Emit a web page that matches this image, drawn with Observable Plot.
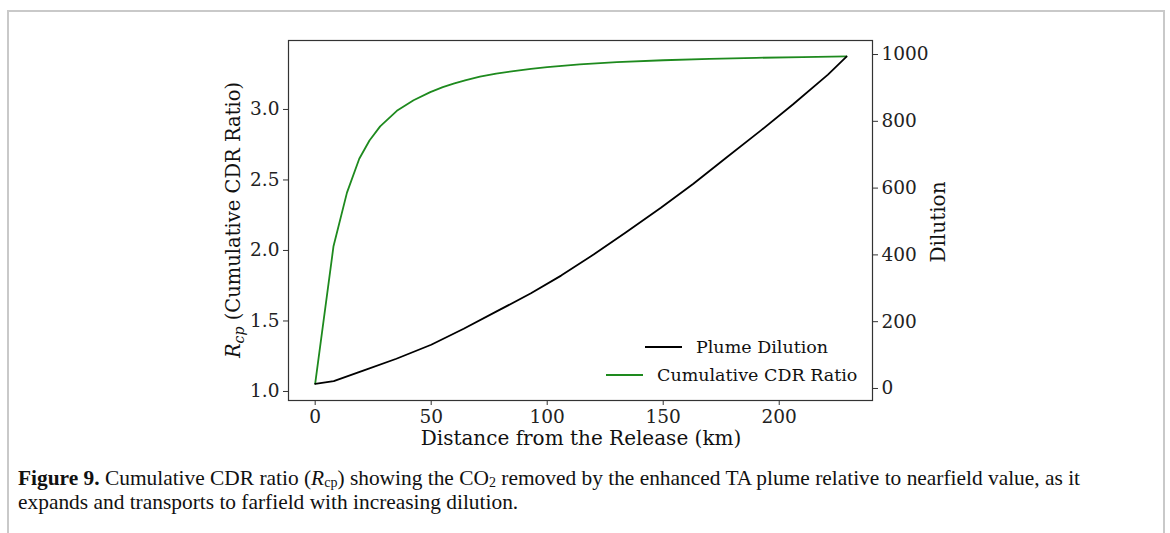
<!DOCTYPE html>
<html>
<head>
<meta charset="utf-8">
<script src="https://cdn.jsdelivr.net/npm/d3@7"></script>
<script src="https://cdn.jsdelivr.net/npm/@observablehq/plot@0.6"></script>
<style>
  html, body { margin: 0; padding: 0; background: #fff; }
  #wrap { position: relative; width: 1170px; height: 533px; overflow: hidden; }
  #border { position: absolute; left: 7px; top: 10px; width: 1154px; height: 600px;
            border: 2px solid #c9c9c9; border-bottom: none; }
  .layer { position: absolute; left: 0; top: 0; }
  #caption { position: absolute; left: 18px; top: 466px; width: 1140px; white-space: nowrap;
             font-family: "Liberation Serif", serif; font-size: 21.4px; line-height: 24px; color: #111; }
  #caption sub { font-size: 14px; line-height: 0; vertical-align: -2px; }
</style>
</head>
<body>
<div id="wrap">
  <div id="border"></div>
  <div id="plotA" class="layer"></div>
  <div id="plotB" class="layer"></div>
  <div id="caption"><b>Figure 9.</b> Cumulative CDR ratio (<i>R</i><sub>cp</sub>) showing the CO<sub>2</sub> removed by the enhanced TA plume relative to nearfield value, as it<br>expands and transports to farfield with increasing dilution.</div>
</div>
<script>
// ---- Data ----
const cdrDistance = [0, 7.9, 13.7, 19, 23.4, 28, 35.2, 42.4, 49.6, 55, 60, 65, 71, 78, 85.5, 93, 100, 114, 130, 150, 170, 190, 210, 229];
const cdrRatio    = [1.055, 2.03, 2.41, 2.65, 2.78, 2.88, 2.99, 3.065, 3.123, 3.158, 3.185, 3.208, 3.232, 3.254, 3.272, 3.288, 3.30, 3.319, 3.335, 3.349, 3.359, 3.366, 3.371, 3.376];

const dilDistance = [0, 8, 21, 35, 50, 64, 78, 93, 106, 120, 134, 149, 163, 177, 192, 206, 221, 229];
const dilution    = [14, 22, 54, 89, 131, 179, 230, 285, 338, 401, 468, 541, 613, 690, 772, 851, 940, 994];

const xTicks = [0, 50, 100, 150, 200];
const leftTicks = [1.0, 1.5, 2.0, 2.5, 3.0];
const rightTicks = [0, 200, 400, 600, 800, 1000];
const seriesNames = ["Plume Dilution", "Cumulative CDR Ratio"];
const seriesColors = ["#000000", "#1e8a1e"];

const cdrRows = cdrDistance.map((d, i) => ({distance: d, value: cdrRatio[i]}));
const dilRows = dilDistance.map((d, i) => ({distance: d, value: dilution[i]}));

const W = 1170, H = 460;
const M = {top: 40, right: 298, bottom: 60, left: 288};
const font = "'DejaVu Serif', serif";
const frameColor = "#333";
const tickFont = 18.5;

const plotA = Plot.plot({
  width: W, height: H,
  marginTop: M.top, marginRight: M.right, marginBottom: M.bottom, marginLeft: M.left,
  x: {domain: [-11.5, 240.2]},
  y: {domain: [0.936, 3.489]},
  style: {fontFamily: font, fontSize: tickFont + "px", background: "transparent", color: "#222", overflow: "visible"},
  marks: [
    Plot.frame({stroke: frameColor, strokeWidth: 1.2}),
    Plot.axisX({ticks: xTicks, tickSize: 5, tickPadding: 4, label: null, fontSize: tickFont, stroke: frameColor}),
    Plot.axisY({ticks: leftTicks, tickFormat: d => d.toFixed(1), tickSize: 5, tickPadding: 4, label: null, fontSize: tickFont, stroke: frameColor}),
    Plot.line(cdrRows, {x: "distance", y: "value", stroke: seriesColors[1], strokeWidth: 1.8})
  ]
});
document.getElementById("plotA").appendChild(plotA);

const plotB = Plot.plot({
  width: W, height: H,
  marginTop: M.top, marginRight: M.right, marginBottom: M.bottom, marginLeft: M.left,
  x: {domain: [-11.5, 240.2], axis: null},
  y: {domain: [-36, 1042]},
  style: {fontFamily: font, fontSize: tickFont + "px", background: "transparent", color: "#222", overflow: "visible"},
  marks: [
    Plot.axisY({anchor: "right", ticks: rightTicks, tickFormat: d => String(d), tickSize: 5, tickPadding: 4, label: null, fontSize: tickFont, stroke: frameColor}),
    Plot.line(dilRows, {x: "distance", y: "value", stroke: seriesColors[0], strokeWidth: 1.8})
  ]
});
document.getElementById("plotB").appendChild(plotB);

// ---- Axis labels ----
const svgA = d3.select(plotA);
svgA.append("text")
  .attr("x", 581).attr("y", 445)
  .attr("text-anchor", "middle")
  .attr("font-family", font).attr("font-size", 20).attr("fill", "#111")
  .text("Distance from the Release (km)");

const yl = svgA.append("text")
  .attr("transform", "translate(240,220) rotate(-90)")
  .attr("text-anchor", "middle")
  .attr("font-family", font).attr("font-size", 19.5).attr("fill", "#111");
yl.append("tspan").attr("font-style", "italic").text("R");
yl.append("tspan").attr("font-style", "italic").attr("font-size", 14).attr("dy", 4).text("cp");
yl.append("tspan").attr("dy", -4).text(" (Cumulative CDR Ratio)");

const svgB = d3.select(plotB);
svgB.append("text")
  .attr("transform", "translate(945,222) rotate(-90)")
  .attr("text-anchor", "middle")
  .attr("font-family", font).attr("font-size", 20).attr("fill", "#111")
  .text("Dilution");

// ---- Legend ----
const legendItems = [
  {name: seriesNames[0], color: seriesColors[0], x0: 645, y: 347},
  {name: seriesNames[1], color: seriesColors[1], x0: 606, y: 375}
];
legendItems.forEach(it => {
  svgB.append("line").attr("x1", it.x0).attr("x2", it.x0 + 37)
    .attr("y1", it.y).attr("y2", it.y).attr("stroke", it.color).attr("stroke-width", 1.8);
  svgB.append("text").attr("x", it.x0 + 51).attr("y", it.y + 6)
    .attr("text-anchor", "start")
    .attr("font-family", font).attr("font-size", 17.5).attr("fill", "#111").text(it.name);
});
</script>
</body>
</html>
